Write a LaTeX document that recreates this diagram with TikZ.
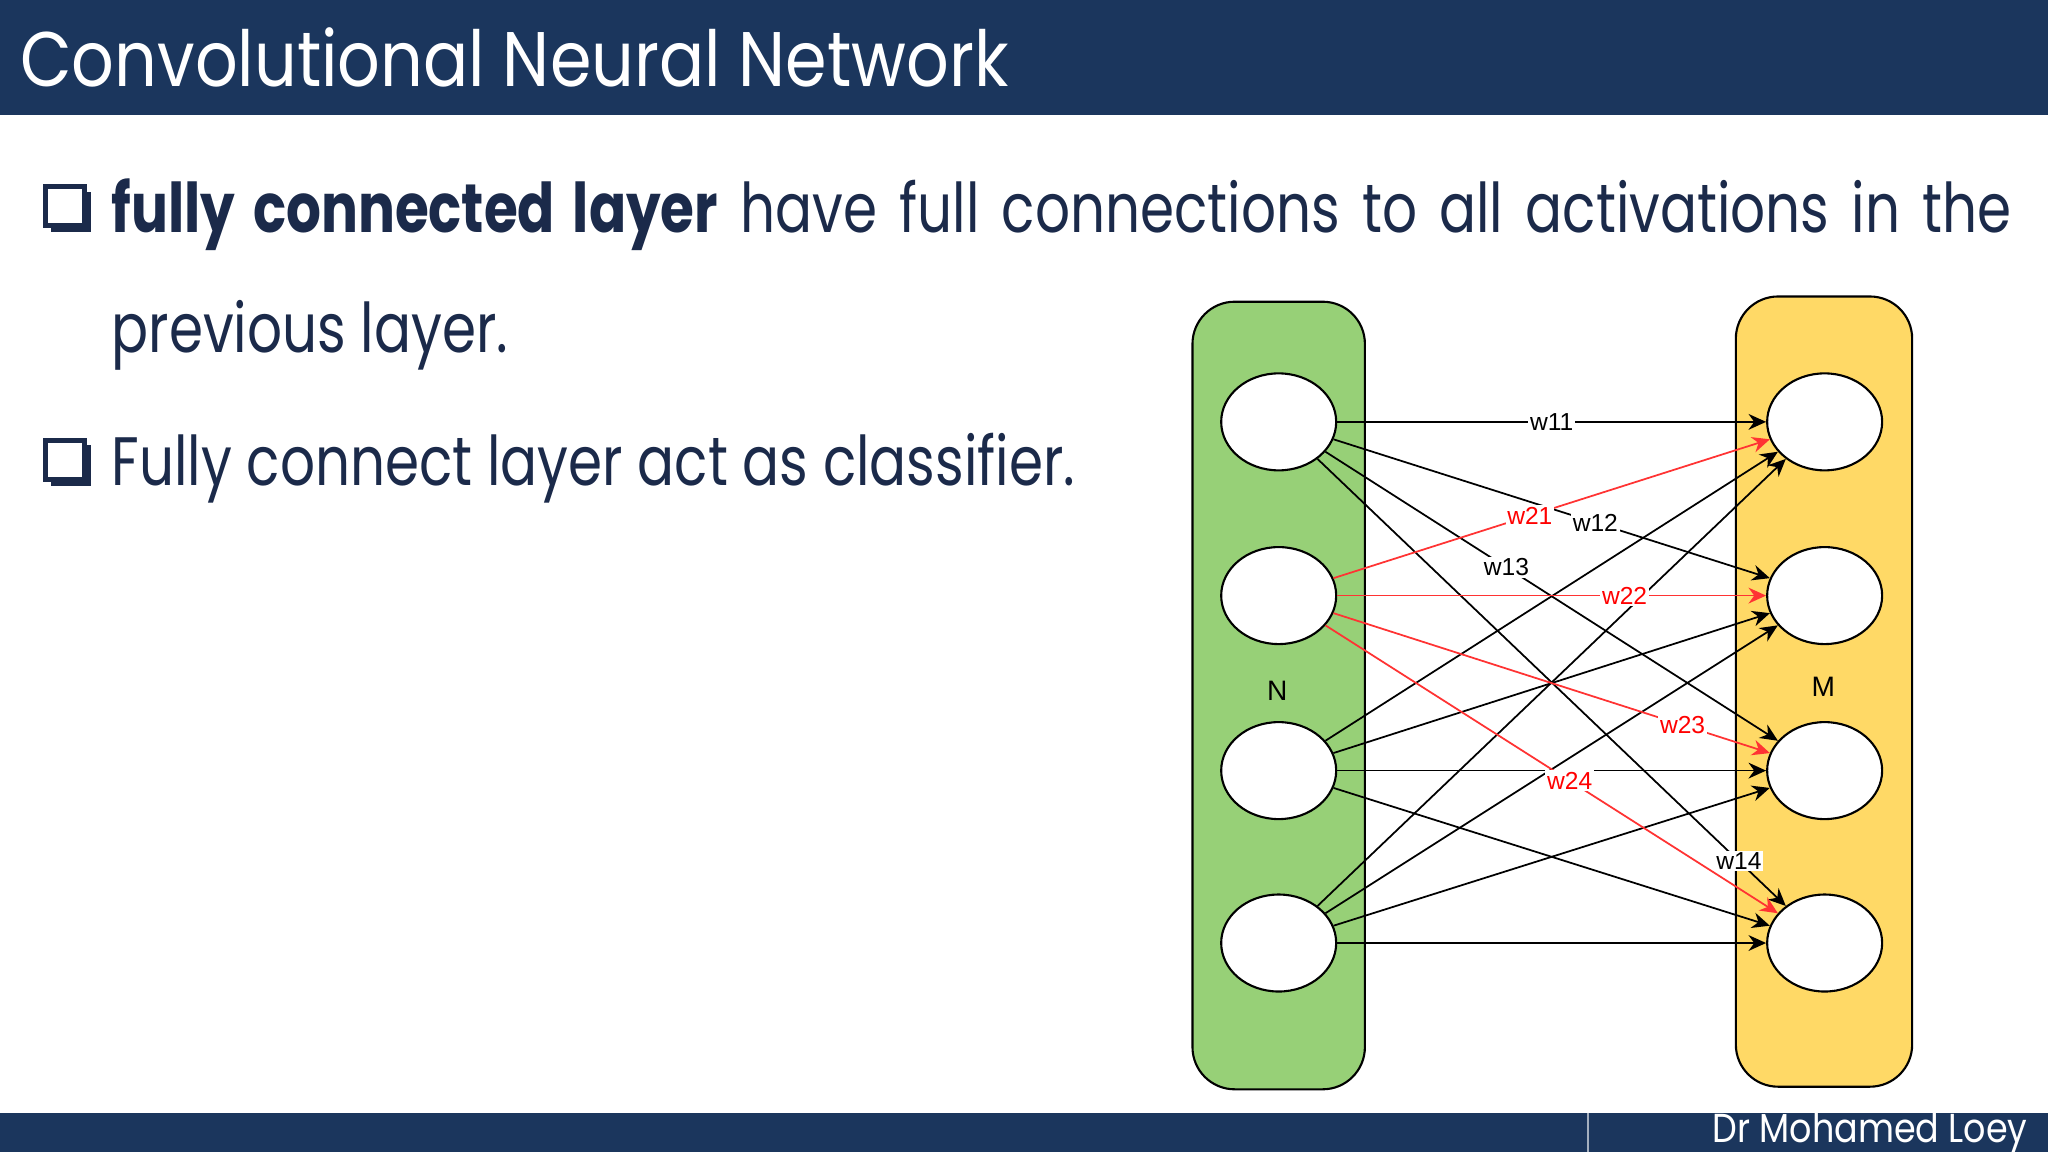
\documentclass[tikz,border=0pt]{standalone}
\usepackage{fontspec}
\setmainfont{Poppins}
\newfontfamily\bodyf[FakeStretch=0.8]{Poppins}
\newfontfamily\titlef[FakeStretch=0.865]{Poppins}
\newfontfamily\lab{Liberation Sans}
\usetikzlibrary{arrows.meta,shapes.geometric}
\definecolor{navy}{HTML}{1B365D}
\definecolor{txt}{HTML}{1B2A4A}
\definecolor{gfill}{HTML}{97D077}
\definecolor{yfill}{HTML}{FFD966}
\begin{document}
\begin{tikzpicture}[x=0.013061cm,y=-0.013061cm,
  nn/.style={draw=black,fill=white,shape=ellipse,minimum width=1.15cm,minimum height=0.97cm,line width=0.6pt,inner sep=0pt},
  e/.style={-{Stealth[length=5pt,width=4.5pt]},line width=0.5pt,black},
  er/.style={e,draw=red!80},
  wl/.style={fill=white,inner sep=0.5pt,font=\lab\fontsize{7}{8}\selectfont},
  body/.style={text=txt,font=\bodyf\fontsize{19.5}{22}\selectfont,anchor=base west,inner sep=0pt},
  box/.style={draw=txt,line width=1.4pt,fill=white}]
\useasboundingbox (0,0) rectangle (1568,882);
\fill[navy] (0,0) rectangle (1568,88);
\fill[navy] (0,852) rectangle (1568,882);
\draw[white!60!navy,line width=0.5pt] (1216,852) -- (1216,882);
\node[text=white,font=\titlef\fontsize{22}{26}\selectfont,anchor=base west,inner sep=0pt] (title) at (15,66) {Convolutional Neural Network};
\node[text=white,font=\titlef\fontsize{11.5}{14}\selectfont,anchor=base east,inner sep=0pt] (author) at (1553,875) {Dr Mohamed Loey};
% bullets
\fill[txt] (39,147) rectangle (70,178);
\draw[box] (35,143) rectangle (65,173);
\fill[txt] (39,341) rectangle (70,372);
\draw[box] (35,337) rectangle (65,367);
\node[body,align=justify,text width=19.0cm] (b1t) at (85,178) {\hyphenpenalty=10000\parfillskip=0pt\textbf{fully connected layer} have full connections to all activations in the\par};
\node[body] (b1b) at (85,270) {previous layer.};
\node[body] (b2) at (85,372) {Fully connect layer act as classifier.};
% layers
\draw[fill=gfill,rounded corners=12pt,line width=0.6pt] (913,231) rectangle (1045,834);
\draw[fill=yfill,rounded corners=12pt,line width=0.6pt] (1329,227) rectangle (1464,832);
\node[font=\lab\fontsize{8}{9}\selectfont] (N) at (978,529) {N};
\node[font=\lab\fontsize{8}{9}\selectfont] (M) at (1396,526) {M};
\foreach \i/\y in {1/323,2/456,3/590,4/722}{
  \node[nn] (l\i) at (979,\y) {};
  \node[nn] (r\i) at (1397,\y) {};
}
\foreach \i in {1,3,4}{\foreach \j in {1,2,3,4}{\draw[e] (l\i) -- (r\j);}}
\foreach \j in {1,2,3,4}{\draw[er] (l2) -- (r\j);}
\path (l1) -- (r1) node[wl,pos=0.5]{w11};
\path (l1) -- (r2) node[wl,pos=0.6]{w12};
\path (l1) -- (r3) node[wl,pos=0.4]{w13};
\path (l1) -- (r4) node[wl,pos=0.9]{w14};
\path (l2) -- (r1) node[wl,pos=0.45,text=red]{w21};
\path (l2) -- (r2) node[wl,pos=0.67,text=red]{w22};
\path (l2) -- (r3) node[wl,pos=0.8,text=red]{w23};
\path (l2) -- (r4) node[wl,pos=0.54,text=red]{w24};
\end{tikzpicture}
\end{document}
